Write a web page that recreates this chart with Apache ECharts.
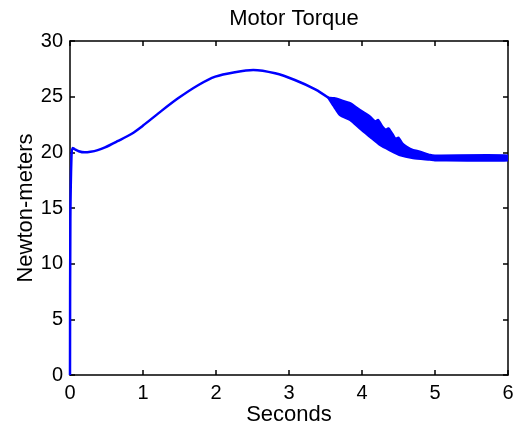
<!DOCTYPE html>
<html>
<head>
<meta charset="utf-8">
<script src="https://cdn.jsdelivr.net/npm/echarts@6/dist/echarts.min.js"></script>
<style>
html,body{margin:0;padding:0;background:#fff;}
#chart{width:515px;height:430px;}
</style>
</head>
<body>
<div id="chart"></div>
<script>
// Main (single) torque trace before oscillations
const mainTime   = [0, 0.005, 0.02, 0.035, 0.06, 0.12, 0.2, 0.28, 0.38, 0.48, 0.65, 0.84, 1.0, 1.21, 1.48, 1.76, 1.99, 2.26, 2.51, 2.81, 3.08, 3.36, 3.54];
const mainTorque = [0, 14.0, 19.6, 20.4, 20.3, 20.1, 20.0, 20.05, 20.2, 20.45, 21.0, 21.65, 22.4, 23.5, 24.85, 26.05, 26.8, 27.2, 27.4, 27.1, 26.5, 25.66, 24.9];

// Oscillation envelope (upper and lower edges)
const upperTime   = [3.54, 3.62, 3.70, 3.84, 3.97, 4.11, 4.18, 4.22, 4.28, 4.33, 4.36, 4.42, 4.46, 4.50, 4.55, 4.61, 4.70, 4.79, 4.93, 5.0, 6.0];
const upperTorque = [24.9, 24.85, 24.7, 24.4, 23.8, 23.2, 22.75, 22.9, 22.3, 22.0, 22.15, 21.6, 21.2, 21.3, 20.8, 20.5, 20.2, 20.06, 19.76, 19.7, 19.7];
const lowerTime   = [3.54, 3.62, 3.70, 3.84, 3.97, 4.11, 4.25, 4.38, 4.52, 4.70, 4.93, 5.0, 6.0];
const lowerTorque = [24.9, 24.1, 23.35, 22.9, 22.15, 21.4, 20.66, 20.2, 19.76, 19.5, 19.35, 19.3, 19.3];

const xTicks = [0, 1, 2, 3, 4, 5, 6];
const yTicks = [0, 5, 10, 15, 20, 25, 30];

const FONT = 'Liberation Sans, Arial, Helvetica, sans-serif';
const chart = echarts.init(document.getElementById('chart'));

const mainData = mainTime.map((t, i) => [t, mainTorque[i]]);
const bandPoly = upperTime.map((t, i) => [t, upperTorque[i]])
  .concat(lowerTime.map((t, i) => [t, lowerTorque[i]]).reverse());

function axisCommon() {
  return {
    axisLine: {show: true, onZero: false, lineStyle: {color: '#000', width: 1.5}},
    axisTick: {show: true, inside: true, length: 5, lineStyle: {color: '#000', width: 1.5}},
    splitLine: {show: false}
  };
}

chart.setOption({
  animation: false,
  backgroundColor: '#fff',
  title: {
    text: 'Motor Torque', left: 289, textAlign: 'center', top: 3,
    textStyle: {fontFamily: FONT, fontSize: 22, fontWeight: 'normal', color: '#000'}
  },
  grid: {left: 70, right: 7, top: 41, bottom: 55, containLabel: false, outerBoundsMode: 'none'},
  xAxis: [
    Object.assign({
      type: 'value', min: xTicks[0], max: xTicks[xTicks.length - 1], interval: 1, position: 'bottom',
      name: 'Seconds', nameLocation: 'middle', nameGap: 29, nameMoveOverlap: false,
      nameTextStyle: {fontFamily: FONT, fontSize: 22, color: '#000'},
      axisLabel: {fontFamily: FONT, fontSize: 20, color: '#000', margin: 8}
    }, axisCommon()),
    Object.assign({
      type: 'value', min: xTicks[0], max: xTicks[xTicks.length - 1], interval: 1, position: 'top',
      axisLabel: {show: false}
    }, axisCommon())
  ],
  yAxis: [
    Object.assign({
      type: 'value', min: yTicks[0], max: yTicks[yTicks.length - 1], interval: 5, position: 'left',
      name: 'Newton-meters', nameLocation: 'middle', nameGap: 33, nameMoveOverlap: false,
      nameTextStyle: {fontFamily: FONT, fontSize: 22, color: '#000'},
      axisLabel: {fontFamily: FONT, fontSize: 20, color: '#000', margin: 7}
    }, axisCommon()),
    Object.assign({
      type: 'value', min: yTicks[0], max: yTicks[yTicks.length - 1], interval: 5, position: 'right',
      axisLabel: {show: false}
    }, axisCommon())
  ],
  series: [
    {
      type: 'line', data: mainData, showSymbol: false, symbol: 'none',
      smooth: 0.3,
      lineStyle: {color: '#0000ff', width: 2.5}, clip: true, z: 3
    },
    {
      type: 'custom', data: [[0, 0]], clip: true, z: 3,
      renderItem: function (params, api) {
        const pts = bandPoly.map(p => api.coord(p));
        return {
          type: 'polygon',
          shape: {points: pts, smooth: 0.2},
          style: {fill: '#0000ff', stroke: '#0000ff', lineWidth: 2.5, lineJoin: 'round'}
        };
      }
    }
  ]
});
</script>
</body>
</html>
